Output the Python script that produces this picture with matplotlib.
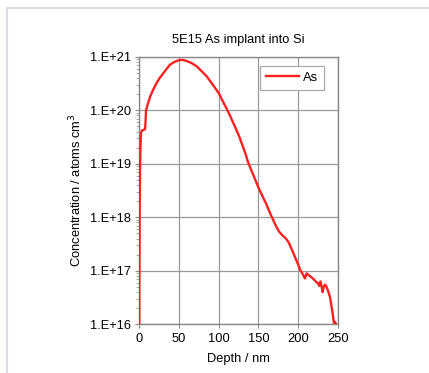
import matplotlib
matplotlib.use("Agg")
import matplotlib.pyplot as plt
from matplotlib.patches import Rectangle
from matplotlib.ticker import FixedLocator, FuncFormatter, LogLocator, NullFormatter
import numpy as np

plt.rcParams['font.family'] = ['Liberation Sans', 'DejaVu Sans']

title = "5E15 As implant into Si"
x_label = "Depth / nm"
y_label = "Concentration / atoms cm$^{3}$"
series_name = "As"

depth = [0.3, 0.8, 1.3, 2.0, 2.5, 4, 6, 7.5, 8.2, 8.8, 10, 12, 14, 18, 22, 26, 30.5, 35, 39,
         44, 48, 52, 56, 60, 66, 72.5, 78, 85, 92, 100, 105, 110, 114, 118, 122, 126, 130,
         134, 137, 140, 145, 150, 155, 160, 164, 168, 172, 176, 180, 184, 188, 192, 196,
         200, 203, 205, 207, 208.5, 210.5, 212.5, 215, 219, 222, 225, 226.5, 228, 229.5,
         230.7, 232, 233.7, 235, 236.6, 238.5, 240, 242, 243, 244, 245, 246.5, 247.5]
conc = [1e16, 1e18, 8e18, 2.5e19, 3.8e19, 4.2e19, 4.3e19, 4.4e19, 6e19, 1e20, 1.15e20,
        1.45e20, 1.8e20, 2.45e20, 3.2e20, 4.0e20, 4.9e20, 6.0e20, 7.1e20,
        7.9e20, 8.4e20, 8.7e20, 8.65e20, 8.3e20, 7.6e20, 6.6e20, 5.5e20, 4.3e20, 3.1e20,
        2.1e20, 1.5e20, 1.07e20, 8.1e19, 6.0e19, 4.4e19, 3.2e19, 2.2e19,
        1.5e19, 1.07e19, 8.3e18, 5.5e18, 3.6e18, 2.5e18, 1.75e18, 1.26e18, 9.3e17, 6.9e17,
        5.4e17, 4.6e17, 4.1e17, 3.4e17, 2.5e17, 1.8e17,
        1.3e17, 1.0e17, 9.1e16, 7.9e16, 7.2e16, 8.9e16, 8.5e16, 7.9e16, 7.1e16, 6.3e16,
        5.8e16, 5.2e16, 6.3e16, 5.0e16,
        4.0e16, 5.0e16, 5.5e16, 5.2e16, 4.6e16, 3.8e16, 3.2e16, 2.1e16, 1.7e16, 1.3e16,
        1.05e16, 1.1e16, 1.0e16]

x_ticks = [0, 50, 100, 150, 200, 250]
y_ticks = [1e16, 1e17, 1e18, 1e19, 1e20, 1e21]

W, H = 429, 373
fig = plt.figure(figsize=(W / 100, H / 100), dpi=100)
fig.patch.set_facecolor('white')

# outer frame
fig.patches.append(Rectangle((7 / W, -0.1), 1.2, 1 - 8 / H + 0.1, transform=fig.transFigure,
                             fill=False, edgecolor='#dcdce4', linewidth=1.5))

ax = fig.add_axes([139 / W, 1 - 324.3 / H, (338 - 139) / W, (324.3 - 56.7) / H])
ax.plot(depth, conc, color='#ff2020', linewidth=1.7, label=series_name, zorder=3)

ax.set_yscale('log')
ax.set_xlim(0, 250)
ax.set_ylim(1e16, 1e21)
ax.xaxis.set_major_locator(FixedLocator(x_ticks))
ax.yaxis.set_major_locator(FixedLocator(y_ticks))
ax.yaxis.set_major_formatter(FuncFormatter(lambda v, p: "1.E+%d" % int(round(np.log10(v)))))
ax.yaxis.set_minor_locator(LogLocator(base=10, subs=np.arange(2, 10)))
ax.yaxis.set_minor_formatter(NullFormatter())

ax.grid(True, which='major', color='#9a9a9a', linewidth=0.9)
ax.set_axisbelow(True)
for s in ax.spines.values():
    s.set_color('#888888')
    s.set_linewidth(1.0)

ax.tick_params(axis='both', which='major', direction='out', length=3, width=0.8,
               color='#888888', labelsize=9.3, labelcolor='black', pad=3)
ax.tick_params(axis='y', which='minor', direction='out', length=2.5, width=0.6, color='#999999')

ax.set_title(title, fontsize=9.3, pad=10)
ax.set_xlabel(x_label, fontsize=9.3, labelpad=6)
ax.set_ylabel(y_label, fontsize=9.3, labelpad=4)

leg = ax.legend(loc='upper right', bbox_to_anchor=(1 - 14 / 199, 1 - 9.3 / 267.6),
                borderaxespad=0, fancybox=False, framealpha=1, edgecolor='#aaaaaa',
                fontsize=9.3, handlelength=2.6, handletextpad=0.3, borderpad=0.45)
leg.get_frame().set_linewidth(0.9)

fig.savefig("out.png", dpi=100, facecolor='white')
